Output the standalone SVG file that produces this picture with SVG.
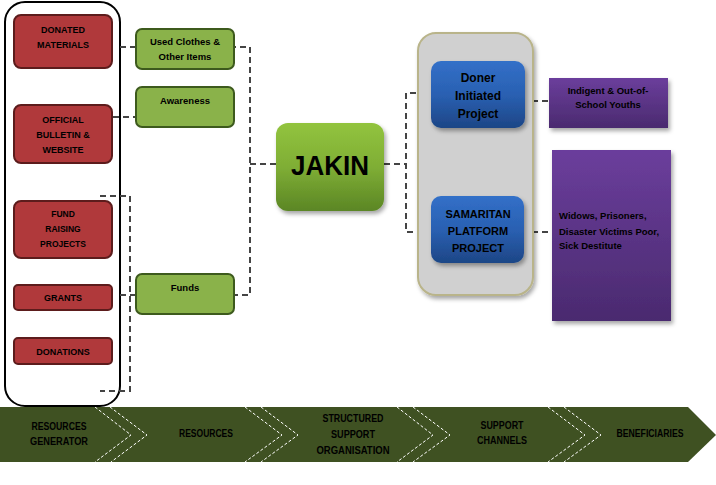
<svg xmlns="http://www.w3.org/2000/svg" width="716" height="485" viewBox="0 0 716 485">
<defs>
<linearGradient id="gJ" x1="0" y1="0" x2="0" y2="1"><stop offset="0" stop-color="#92c43e"/><stop offset="0.5" stop-color="#7fae35"/><stop offset="1" stop-color="#5b8625"/></linearGradient>
<linearGradient id="gB" x1="0" y1="0" x2="0" y2="1"><stop offset="0" stop-color="#3270c8"/><stop offset="0.5" stop-color="#2a60b2"/><stop offset="1" stop-color="#1d4686"/></linearGradient>
<linearGradient id="gP" x1="0" y1="0" x2="0" y2="1"><stop offset="0" stop-color="#6b3e9c"/><stop offset="1" stop-color="#4a2a6f"/></linearGradient>
<filter id="sh" x="-20%" y="-20%" width="140%" height="140%"><feDropShadow dx="2" dy="3" stdDeviation="2" flood-color="#000" flood-opacity="0.35"/></filter>
<style>
.red{fill:#b0393b;stroke:#5c1c1c;stroke-width:2}
.grn{fill:#8ab24a;stroke:#3d5a1d;stroke-width:2}
.t{font-family:"Liberation Sans",Arial,sans-serif;font-weight:bold;fill:#000;text-anchor:middle}
.s9{font-size:9px}
.s95{font-size:9.5px}
.s12{font-size:12px}
.b{font-size:11px}
.dash{fill:none;stroke:#444;stroke-width:2;stroke-dasharray:6,4}
.chev{fill:none;stroke:#fff;stroke-width:1;stroke-dasharray:3,2}
</style>
</defs>
<g id="timeline">
<polygon points="0,407 688,407 716,435 688,462 0,462" fill="#3f5122"/>
<polyline class="chev" points="95,407 131,435 95,462"/>
<polyline class="chev" points="110,407 147,435 111,462"/>
<polyline class="chev" points="245,407 282,435 245,462"/>
<polyline class="chev" points="261,407 298,435 261,462"/>
<polyline class="chev" points="397,407 433,435 397,462"/>
<polyline class="chev" points="413,407 450,435 413,462"/>
<polyline class="chev" points="548,407 585,435 548,462"/>
<polyline class="chev" points="564,407 601,435 564,462"/>
<text class="t b" x="59" y="430" textLength="55" lengthAdjust="spacingAndGlyphs">RESOURCES</text>
<text class="t b" x="59" y="445" textLength="58" lengthAdjust="spacingAndGlyphs">GENERATOR</text>
<text class="t b" x="206" y="437" textLength="54" lengthAdjust="spacingAndGlyphs">RESOURCES</text>
<text class="t b" x="353" y="422" textLength="61" lengthAdjust="spacingAndGlyphs">STRUCTURED</text>
<text class="t b" x="353" y="438" textLength="44" lengthAdjust="spacingAndGlyphs">SUPPORT</text>
<text class="t b" x="353" y="454" textLength="73" lengthAdjust="spacingAndGlyphs">ORGANISATION</text>
<text class="t b" x="502" y="429" textLength="43" lengthAdjust="spacingAndGlyphs">SUPPORT</text>
<text class="t b" x="502" y="444" textLength="50" lengthAdjust="spacingAndGlyphs">CHANNELS</text>
<text class="t b" x="650" y="437" textLength="67" lengthAdjust="spacingAndGlyphs">BENEFICIARIES</text>
</g>
<g id="generator-frame">
<rect x="5" y="2" width="115" height="404" rx="20" fill="#fff" stroke="#000" stroke-width="2"/>
</g>
<g id="connectors">
<line class="dash" x1="120" y1="47" x2="150" y2="47"/>
<polyline class="dash" points="220,47 250,47 250,295 219,295"/>
<line class="dash" x1="250" y1="164" x2="280" y2="164"/>
<line class="dash" x1="113" y1="117" x2="142" y2="117"/>
<polyline class="dash" points="100,196 130,196 130,391 100,391"/>
<line class="dash" x1="120" y1="295" x2="150" y2="295"/>
<polyline class="dash" points="384,164 406,164"/>
<polyline class="dash" points="436,93 406,93 406,232 436,232"/>
<line class="dash" x1="522" y1="101" x2="552" y2="101"/>
<line class="dash" x1="522" y1="232" x2="553" y2="232"/>
</g>
<g id="donated-materials">
<rect class="red" x="14" y="15" width="98" height="53" rx="7"/>
<text class="t s9" x="63" y="33">DONATED</text>
<text class="t s9" x="63" y="48">MATERIALS</text>
</g>
<g id="official-bulletin">
<rect class="red" x="14" y="105" width="98" height="58" rx="7"/>
<text class="t s9" x="63" y="123">OFFICIAL</text>
<text class="t s9" x="63" y="138">BULLETIN &amp;</text>
<text class="t s9" x="63" y="153">WEBSITE</text>
</g>
<g id="fund-raising">
<rect class="red" x="14" y="201" width="98" height="57" rx="7"/>
<text class="t" font-size="8.5" x="63" y="217">FUND</text>
<text class="t" font-size="8.5" x="63" y="232">RAISING</text>
<text class="t" font-size="8.5" x="63" y="247">PROJECTS</text>
</g>
<g id="grants">
<rect class="red" x="14" y="285" width="98" height="25" rx="4"/>
<text class="t s9" x="63" y="301">GRANTS</text>
</g>
<g id="donations">
<rect class="red" x="14" y="338" width="98" height="26" rx="4"/>
<text class="t s9" x="63" y="355">DONATIONS</text>
</g>
<g id="used-clothes">
<rect class="grn" x="136" y="29" width="98" height="40" rx="6"/>
<text class="t s95" x="185" y="45">Used Clothes &amp;</text>
<text class="t s95" x="185" y="60">Other Items</text>
</g>
<g id="awareness">
<rect class="grn" x="136" y="87" width="98" height="40" rx="6"/>
<text class="t s95" x="185" y="104">Awareness</text>
</g>
<g id="funds">
<rect class="grn" x="136" y="274" width="98" height="40" rx="6"/>
<text class="t s95" x="185" y="291">Funds</text>
</g>
<g id="jakin">
<rect x="276" y="123" width="108" height="88" rx="12" fill="url(#gJ)" filter="url(#sh)"/>
<text class="t" font-size="28" x="330" y="175" textLength="78" lengthAdjust="spacingAndGlyphs">JAKIN</text>
</g>
<g id="support-panel">
<rect x="418" y="33" width="115" height="262" rx="18" fill="#d0d0d0" stroke="#b9b48a" stroke-width="2" filter="url(#sh)"/>
</g>
<g id="doner-project">
<rect x="431" y="61" width="94" height="67" rx="10" fill="url(#gB)" filter="url(#sh)"/>
<text class="t s12" x="478" y="82">Doner</text>
<text class="t s12" x="478" y="100">Initiated</text>
<text class="t s12" x="478" y="118">Project</text>
</g>
<g id="samaritan-project">
<rect x="431" y="196" width="93" height="67" rx="10" fill="url(#gB)" filter="url(#sh)"/>
<text class="t" font-size="11" x="478" y="218">SAMARITAN</text>
<text class="t" font-size="11" x="478" y="235">PLATFORM</text>
<text class="t" font-size="11" x="478" y="252">PROJECT</text>
</g>
<g id="indigent-youths">
<rect x="549" y="78" width="119" height="50" fill="url(#gP)" filter="url(#sh)"/>
<text class="t s95" x="608" y="94">Indigent &amp; Out-of-</text>
<text class="t s95" x="608" y="108">School Youths</text>
</g>
<g id="widows">
<rect x="552" y="150" width="119" height="171" fill="url(#gP)" filter="url(#sh)"/>
<text class="t s95" x="559" y="219" style="text-anchor:start">Widows, Prisoners,</text>
<text class="t s95" x="559" y="235" style="text-anchor:start">Disaster Victims Poor,</text>
<text class="t s95" x="559" y="249" style="text-anchor:start">Sick Destitute</text>
</g>
</svg>
